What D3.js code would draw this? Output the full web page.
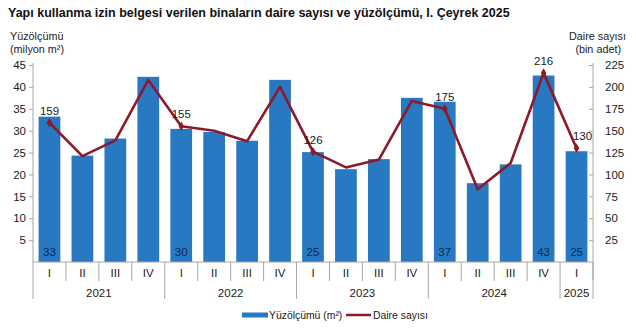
<!DOCTYPE html>
<html>
<head>
<meta charset="utf-8">
<script src="https://cdn.jsdelivr.net/npm/d3@7"></script>
<style>
  html, body { margin: 0; padding: 0; background: #fff; }
  svg { display: block; font-family: "Liberation Sans", Arial, sans-serif; }
</style>
</head>
<body>
<svg id="chart" width="636" height="331"></svg>
<script>
// Quarterly building-use permit figures, 2021 Q1 – 2025 Q1
const quarters = ["I","II","III","IV","I","II","III","IV","I","II","III","IV","I","II","III","IV","I"];
const years = ["2021","2022","2023","2024","2025"];
const yearSpans = [4, 4, 4, 4, 1];
// Floor area, million m²
const floorArea = [33.2, 24.3, 28.2, 42.3, 30.4, 29.7, 27.7, 41.6, 25.1, 21.2, 23.5, 37.5, 36.6, 18.0, 22.3, 42.6, 25.3];
// Dwelling units, thousand
const dwellings = [159, 121, 139, 208, 155, 150, 138, 200, 126, 108, 117, 184, 175, 83, 113, 216, 130];
// Indices that carry value labels
const labelled = [0, 4, 8, 12, 15, 16];
const leftTicks = [5, 10, 15, 20, 25, 30, 35, 40, 45];
const rightTicks = [25, 50, 75, 100, 125, 150, 175, 200, 225];

const barColor = "#2878c2";
const lineColor = "#8b1a2a";
const axisColor = "#a6a6a6";
const textColor = "#1a1a1a";
const fs = 11.5;

const svg = d3.select("#chart");
const pL = 33, pR = 593, pT = 65, pB = 262;

const x = d3.scaleBand().domain(d3.range(quarters.length)).range([pL, pR]).paddingInner(0.34).paddingOuter(0.17);
const xStep = (pR - pL) / quarters.length;
const yL = d3.scaleLinear().domain([0, 45]).range([pB, pT]);
const yR = d3.scaleLinear().domain([0, 225]).range([pB, pT]);

// Title
svg.append("text").attr("x", 8).attr("y", 17)
  .attr("font-size", 12.5).attr("font-weight", "bold").attr("fill", "#111")
  .text("Yapı kullanma izin belgesi verilen binaların daire sayısı ve yüzölçümü, I. Çeyrek 2025");

// Axis titles
const lt = svg.append("text").attr("font-size", 10.8).attr("fill", "#222");
lt.append("tspan").attr("x", 10).attr("y", 40).text("Yüzölçümü");
lt.append("tspan").attr("x", 10).attr("y", 53).text("(milyon m²)");
const rt = svg.append("text").attr("font-size", 10.8).attr("fill", "#222").attr("text-anchor", "end");
rt.append("tspan").attr("x", 626).attr("y", 40).text("Daire sayısı");
rt.append("tspan").attr("x", 621).attr("y", 53).text("(bin adet)");

// Bars
svg.append("g").selectAll("rect").data(floorArea).join("rect")
  .attr("x", (d, i) => x(i)).attr("width", x.bandwidth())
  .attr("y", d => yL(d)).attr("height", d => pB - yL(d))
  .attr("fill", barColor);

// Left axis
const gL = svg.append("g").attr("transform", `translate(${pL},0)`)
  .call(d3.axisLeft(yL).tickValues(leftTicks).tickSize(4).tickPadding(3));
gL.select(".domain").attr("stroke", axisColor).attr("d", `M0,${pB}V${pT - 2}`);
gL.selectAll(".tick line").attr("stroke", axisColor);
gL.selectAll(".tick text").attr("font-size", fs).attr("fill", textColor).attr("font-family", "Liberation Sans, Arial, sans-serif");

// Right axis
const gR = svg.append("g").attr("transform", `translate(${pR},0)`)
  .call(d3.axisRight(yR).tickValues(rightTicks).tickSize(-4).tickPadding(12));
gR.select(".domain").attr("stroke", axisColor).attr("d", `M0,${pB + 18}V${pT - 2}`);
gR.selectAll(".tick line").attr("stroke", axisColor);
gR.selectAll(".tick text").attr("font-size", fs).attr("fill", textColor).attr("font-family", "Liberation Sans, Arial, sans-serif");

// Category axis: baseline, quarter and year separators
const gx = svg.append("g");
gx.append("line").attr("x1", pL).attr("x2", pR).attr("y1", pB).attr("y2", pB).attr("stroke", axisColor);
const yearStarts = [];
let acc = 0;
yearSpans.forEach(s => { yearStarts.push(acc); acc += s; });
d3.range(quarters.length + 1).forEach(i => {
  const isYear = yearStarts.includes(i) || i === quarters.length;
  gx.append("line")
    .attr("x1", pL + i * xStep).attr("x2", pL + i * xStep)
    .attr("y1", pB).attr("y2", isYear ? 299 : 281)
    .attr("stroke", axisColor);
});
gx.selectAll("text.q").data(quarters).join("text").attr("class", "q")
  .attr("x", (d, i) => x(i) + x.bandwidth() / 2).attr("y", 277)
  .attr("text-anchor", "middle").attr("font-size", fs).attr("fill", textColor).text(d => d);
gx.selectAll("text.yr").data(years).join("text").attr("class", "yr")
  .attr("x", (d, i) => pL + (yearStarts[i] + yearSpans[i] / 2) * xStep).attr("y", 297)
  .attr("text-anchor", "middle").attr("font-size", fs).attr("fill", textColor).text(d => d);

// Dwelling line
const line = d3.line().x((d, i) => x(i) + x.bandwidth() / 2).y(d => yR(d));
svg.append("path").datum(dwellings).attr("d", line)
  .attr("fill", "none").attr("stroke", lineColor).attr("stroke-width", 2.6).attr("stroke-linejoin", "round");
svg.append("g").selectAll("path").data(labelled).join("path")
  .attr("transform", i => `translate(${x(i) + x.bandwidth() / 2},${yR(dwellings[i])})`)
  .attr("d", d3.symbol().type(d3.symbolDiamond).size(26))
  .attr("fill", lineColor);

// Value labels
svg.append("g").selectAll("text").data(labelled).join("text")
  .attr("x", i => x(i) + x.bandwidth() / 2 + (i === 16 ? 6 : 0))
  .attr("y", i => yR(dwellings[i]) - 8)
  .attr("text-anchor", "middle").attr("font-size", fs).attr("fill", textColor)
  .text(i => dwellings[i]);
svg.append("g").selectAll("text").data(labelled).join("text")
  .attr("x", i => x(i) + x.bandwidth() / 2).attr("y", pB - 6)
  .attr("text-anchor", "middle").attr("font-size", fs).attr("fill", "#0d2a4a")
  .text(i => Math.round(floorArea[i]));

// Legend
const lg = svg.append("g").attr("transform", "translate(0,315)");
lg.append("rect").attr("x", 242).attr("y", -2.5).attr("width", 26).attr("height", 5).attr("fill", barColor);
lg.append("text").attr("x", 269).attr("y", 4).attr("font-size", 10.4).attr("fill", textColor).text("Yüzölçümü (m²)");
lg.append("line").attr("x1", 346).attr("x2", 371).attr("y1", 0).attr("y2", 0).attr("stroke", lineColor).attr("stroke-width", 2.5);
lg.append("text").attr("x", 373).attr("y", 4).attr("font-size", 10.4).attr("fill", textColor).text("Daire sayısı");
</script>
</body>
</html>
